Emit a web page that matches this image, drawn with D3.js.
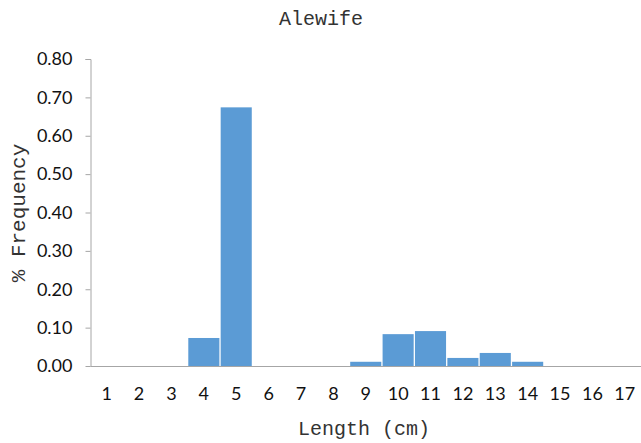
<!DOCTYPE html>
<html>
<head>
<meta charset="utf-8">
<script src="https://cdn.jsdelivr.net/npm/d3@7"></script>
<style>
  body { margin: 0; background: #fff; }
  svg { display: block; }
</style>
</head>
<body>
<svg id="chart" width="641" height="443"></svg>
<script>
"use strict";

// data
const lengths = ["1", "2", "3", "4", "5", "6", "7", "8", "9", "10", "11", "12", "13", "14", "15", "16", "17"];
const freq = [0, 0, 0, 0.073, 0.674, 0, 0, 0, 0.011, 0.083, 0.091, 0.021, 0.034, 0.011, 0, 0, 0];
const yTicks = [0, 0.1, 0.2, 0.3, 0.4, 0.5, 0.6, 0.7, 0.8];

const svg = d3.select("#chart");
const margin = { top: 59, right: 0, bottom: 77, left: 90 };
const width = +svg.attr("width") - margin.left - margin.right;
const height = +svg.attr("height") - margin.top - margin.bottom;

const g = svg.append("g")
  .attr("transform", "translate(" + margin.left + "," + margin.top + ")");

const x = d3.scaleBand()
  .domain(lengths)
  .range([0.5, width])
  .paddingInner(0.04)
  .paddingOuter(0.02);

const y = d3.scaleLinear()
  .domain([0, 0.8])
  .range([height, 0]);

const tickFont = "Lato, 'Open Sans', sans-serif";
const monoFont = "'Courier New', 'Liberation Mono', monospace";

// bars
g.append("g")
  .selectAll("rect")
  .data(freq)
  .enter()
  .append("rect")
  .attr("x", (d, i) => x(lengths[i]))
  .attr("y", d => y(d))
  .attr("width", x.bandwidth())
  .attr("height", d => height - y(d))
  .attr("fill", "#5b9bd5");

// y axis
const yAxis = d3.axisLeft(y)
  .tickValues(yTicks)
  .tickSize(5)
  .tickPadding(13)
  .tickFormat(d3.format(".2f"));

const gY = g.append("g")
  .attr("transform", "translate(0.5,0)")
  .call(yAxis);

gY.select(".domain").attr("stroke", "#a6a6a6").attr("d", "M-5,0.5H0.5V" + (height + 0.5));
gY.selectAll(".tick line").attr("stroke", "#a6a6a6");
gY.selectAll(".tick text")
  .attr("fill", "#111")
  .style("font-family", tickFont)
  .style("font-size", "18px");

// x axis
const xAxis = d3.axisBottom(x).tickSize(0).tickPadding(21);
const gX = g.append("g")
  .attr("transform", "translate(0," + (height + 0.5) + ")")
  .call(xAxis);

gX.select(".domain").attr("stroke", "#a6a6a6").attr("d", "M0.5,0H" + width);
gX.selectAll(".tick text")
  .attr("fill", "#111")
  .style("font-family", tickFont)
  .style("font-size", "18px");

// titles
svg.append("text")
  .attr("x", 321)
  .attr("y", 25)
  .attr("text-anchor", "middle")
  .style("font-family", monoFont)
  .style("font-size", "20px")
  .attr("fill", "#333")
  .text("Alewife");

svg.append("text")
  .attr("x", 364)
  .attr("y", 435)
  .attr("text-anchor", "middle")
  .style("font-family", monoFont)
  .style("font-size", "20px")
  .attr("fill", "#333")
  .text("Length (cm)");

svg.append("text")
  .attr("transform", "translate(25,213) rotate(-90)")
  .attr("text-anchor", "middle")
  .style("font-family", monoFont)
  .style("font-size", "21px")
  .attr("fill", "#333")
  .text("% Frequency");
</script>
</body>
</html>
